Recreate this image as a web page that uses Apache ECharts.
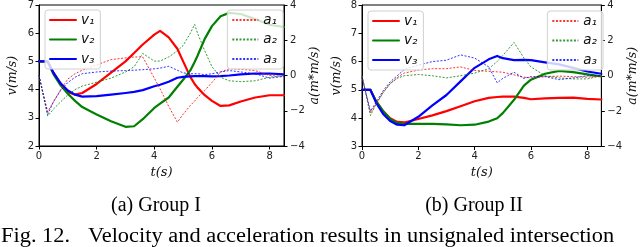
<!DOCTYPE html>
<html><head><meta charset="utf-8">
<script src="https://cdn.jsdelivr.net/npm/echarts@6/dist/echarts.min.js"></script>
<style>html,body{margin:0;padding:0;background:#fff}#c{width:640px;height:247px}</style>
</head><body><div id="c"></div>
<script>
// ---- Data ----
const tA = [0,0.3,0.5,0.75,1,1.25,1.5,2,2.5,3,3.3,3.6,4,4.2,4.5,4.8,5,5.25,5.4,5.5,5.75,6,6.3,6.6,7,7.5,8,8.5];
const v1A = [5,5,4.6,4.2,3.92,3.82,3.88,4.2,4.6,5.0,5.3,5.6,5.95,6.08,5.85,5.45,5.0,4.45,4.2,4.07,3.8,3.6,3.42,3.44,3.58,3.72,3.8,3.8];
const v2A = [5,5,4.55,4.15,3.85,3.6,3.38,3.12,2.88,2.68,2.7,2.95,3.35,3.5,3.72,4.1,4.35,4.68,4.98,5.2,5.8,6.25,6.6,6.72,6.68,6.5,6.3,6.22];
const v3A = [5,5,4.6,4.22,3.97,3.82,3.75,3.77,3.82,3.88,3.92,3.98,4.12,4.17,4.28,4.42,4.45,4.47,4.48,4.48,4.48,4.47,4.48,4.5,4.54,4.57,4.57,4.54];
const a1A = [0,-2.05,-1.5,-0.8,-0.2,0.1,0.3,0.6,0.9,1.0,1.05,1.05,-0.15,-0.75,-1.75,-2.65,-2.2,-1.7,-1.45,-1.25,-0.85,-0.4,0.2,0.38,0.35,0.28,0.0,-0.05];
const a2A = [0,-2.3,-1.9,-1.5,-1.1,-0.8,-0.6,-0.38,-0.15,0.2,0.5,1.25,0.82,0.82,1.05,1.4,1.7,2.4,2.9,2.4,1.4,0.5,-0.1,-0.3,-0.35,-0.3,-0.1,0.0];
const a3A = [0,-2.2,-1.5,-0.85,-0.4,-0.1,0.1,0.2,0.25,0.28,0.3,0.33,0.38,0.42,0.52,0.3,0.15,0.1,0.1,0.1,0.05,0.1,0.2,0.28,0.2,0.1,-0.15,-0.05];

const tB = [0,0.3,0.5,0.75,1,1.25,1.5,2,2.5,3,3.5,4,4.5,4.8,5,5.4,5.75,6,6.5,7,7.5,8,8.5];
const v1B = [5,5,4.6,4.25,4.0,3.87,3.85,3.97,4.1,4.25,4.42,4.6,4.72,4.75,4.76,4.76,4.72,4.67,4.7,4.72,4.73,4.68,4.66];
const v2B = [5,5,4.6,4.25,3.97,3.83,3.8,3.8,3.8,3.78,3.75,3.77,3.88,4.0,4.18,4.65,5.15,5.36,5.57,5.67,5.63,5.55,5.48];
const v3B = [5,5,4.55,4.15,3.9,3.77,3.75,4.05,4.45,4.82,5.3,5.78,6.08,6.2,6.12,6.05,6.06,6.05,5.97,5.9,5.78,5.65,5.57];
const a1B = [0,-2.1,-1.6,-0.95,-0.45,-0.1,0.15,0.32,0.4,0.4,0.5,0.3,0.25,0.22,0.2,0.05,-0.08,-0.12,-0.05,-0.02,-0.05,-0.08,-0.02];
const a2B = [0,-2.25,-1.6,-0.95,-0.45,-0.15,0.0,0.07,0.0,-0.12,0.0,0.15,0.4,0.8,1.15,1.88,1.0,0.5,0.0,-0.12,-0.18,-0.18,0.0];
const a3B = [-0.1,-2.0,-1.5,-0.85,-0.35,0.0,0.35,0.6,0.8,0.88,1.18,1.0,0.5,-0.4,-0.15,0.2,-0.15,-0.05,-0.05,-0.22,-0.12,0.0,0.0];

const xTicks = [0,2,4,6,8];
const vTicksA = [2,3,4,5,6,7];
const vTicksB = [3,4,5,6,7,8];
const aTicks = [-4,-2,0,2,4];
const vNames = ['v₁','v₂','v₃'];
const aNames = ['a₁','a₂','a₃'];
const xName = 't(s)', vName = 'v(m/s)', aName = 'a(m*m/s)';
const captionA = '(a) Group I', captionB = '(b) Group II';
const figLabel = 'Fig. 12.', figText = 'Velocity and acceleration results in unsignaled intersection';

// ---- Chart ----
const colors = ['#ff0000','#008000','#0000ff'];
const tickFont = {fontFamily:'DejaVu Sans', fontSize:10, color:'#222'};
const nameFont = {fontFamily:'DejaVu Serif', fontStyle:'italic', fontSize:12.5, color:'#111'};
const minus = v => String(v).replace('-', '\u2212');

function xAxis(gi){
  return {type:'value', gridIndex:gi, min:0, max:8.5, name:xName, nameLocation:'middle', nameGap:19,
    nameTextStyle:Object.assign({}, nameFont, {fontSize:13}),
    axisLine:{onZero:false, lineStyle:{color:'#000',width:1}},
    axisTick:{show:true, length:3.5, lineStyle:{color:'#000'}, customValues:xTicks},
    axisLabel:Object.assign({margin:5, customValues:xTicks}, tickFont),
    splitLine:{show:false}};
}
function yAxis(gi, min, max, ticks, pos, name, gap){
  return {type:'value', gridIndex:gi, min:min, max:max, position:pos, name:name, nameLocation:'middle', nameGap:gap,
    nameTextStyle:nameFont,
    axisLine:{show:true, onZero:false, lineStyle:{color:'#000',width:1}},
    axisTick:{show:true, length:3.5, lineStyle:{color:'#000'}, customValues:ticks},
    axisLabel:Object.assign({margin:pos==='left'?5:6, customValues:ticks, formatter:minus}, tickFont),
    splitLine:{show:false}};
}
function line(name, t, vals, xi, yi, ci, acc){
  return {type:'line', name:name, xAxisIndex:xi, yAxisIndex:yi, symbol:'none', showSymbol:false, smooth:false,
    data:t.map((x,i)=>[x, vals[i]]), z: acc?3:2,
    lineStyle: acc ? {color:colors[ci], width:1, type:[2,1.6], opacity:0.8} : {color:colors[ci], width:2.2, join:'round', cap:'round'},
    itemStyle:{color:colors[ci]}};
}
function legend(names, pos, top){
  return Object.assign({orient:'vertical', top:top, data:names, itemWidth:26, itemHeight:12, itemGap:5.5,
    padding:[3,6,3,4], backgroundColor:'rgba(255,255,255,0.8)', borderColor:'#d0d0d0', borderWidth:1, borderRadius:3,
    itemStyle:{opacity:0, color:'transparent', borderWidth:0},
    textStyle:{fontFamily:'DejaVu Sans', fontStyle:'italic', fontSize:13.5, color:'#111'}}, pos);
}

const capFont = '20px "Liberation Serif"';
const option = {
  animation:false,
  backgroundColor:'#fff',
  grid:[
    {left:39, top:5, width:245, height:141, show:true, borderColor:'#000', borderWidth:1, backgroundColor:'transparent'},
    {left:362, top:5, width:244, height:141.5, show:true, borderColor:'#000', borderWidth:1, backgroundColor:'transparent'}
  ],
  xAxis:[xAxis(0), xAxis(1)],
  yAxis:[
    yAxis(0, 2, 7, vTicksA, 'left', vName, 20),
    yAxis(0, -4, 4, aTicks, 'right', aName, 22),
    yAxis(1, 3, 8, vTicksB, 'left', vName, 19),
    yAxis(1, -4, 4, aTicks, 'right', aName, 22)
  ],
  legend:[
    legend(vNames, {left:45}, 10),
    legend(aNames, {right:357}, 10),
    legend(vNames, {left:368}, 11),
    legend(aNames, {right:37}, 11)
  ],
  series:[
    line(vNames[0], tA, v1A, 0, 0, 0, false),
    line(vNames[1], tA, v2A, 0, 0, 1, false),
    line(vNames[2], tA, v3A, 0, 0, 2, false),
    line(aNames[0], tA, a1A, 0, 1, 0, true),
    line(aNames[1], tA, a2A, 0, 1, 1, true),
    line(aNames[2], tA, a3A, 0, 1, 2, true),
    line(vNames[0], tB, v1B, 1, 2, 0, false),
    line(vNames[1], tB, v2B, 1, 2, 1, false),
    line(vNames[2], tB, v3B, 1, 2, 2, false),
    line(aNames[0], tB, a1B, 1, 3, 0, true),
    line(aNames[1], tB, a2B, 1, 3, 1, true),
    line(aNames[2], tB, a3B, 1, 3, 2, true)
  ],
  graphic:[
    {type:'text', x:156, y:206, style:{text:captionA, font:capFont, fill:'#000', align:'center', verticalAlign:'middle'}},
    {type:'text', x:474, y:206, style:{text:captionB, font:capFont, fill:'#000', align:'center', verticalAlign:'middle'}},
    {type:'text', x:1, y:237, scaleX:1.12, style:{text:figLabel, font:capFont, fill:'#000', align:'left', verticalAlign:'middle'}},
    {type:'text', x:88, y:237, scaleX:1.12, style:{text:figText, font:capFont, fill:'#000', align:'left', verticalAlign:'middle'}}
  ]
};
const chart = echarts.init(document.getElementById('c'), null, {renderer:'canvas'});
chart.setOption(option);
</script></body></html>
